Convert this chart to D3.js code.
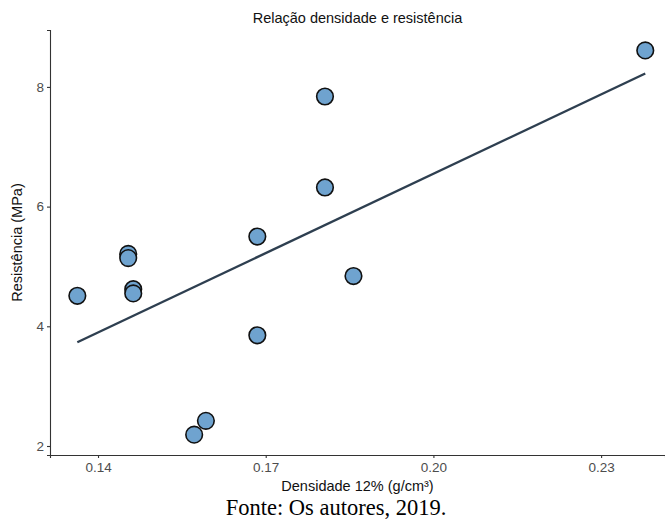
<!DOCTYPE html>
<html>
<head>
<meta charset="utf-8">
<script src="https://cdn.jsdelivr.net/npm/d3@7"></script>
<style>
  html, body { margin: 0; padding: 0; background: #fff; }
  svg { display: block; }
</style>
</head>
<body>
<svg id="chart" width="665" height="522"></svg>
<script>
// Density (12% moisture, g/cm³) and strength (MPa) of each specimen
const densidade = [0.1363, 0.1454, 0.1454, 0.1463, 0.1463, 0.1572, 0.1593, 0.1685, 0.1685, 0.1806, 0.1806, 0.1857, 0.2379];
const resistencia = [4.51, 5.21, 5.14, 4.62, 4.55, 2.19, 2.42, 5.50, 3.85, 7.84, 6.32, 4.84, 8.61];
const xTicks = [0.14, 0.17, 0.20, 0.23];
const yTicks = [2, 4, 6, 8];

const titulo = "Relação densidade e resistência";
const xTitulo = "Densidade 12% (g/cm³)";
const yTitulo = "Resistência (MPa)";
const fonte = "Fonte: Os autores, 2019.";

const svg = d3.select("#chart");
const panel = { left: 50, right: 665, top: 30, bottom: 455 };

const x = d3.scaleLinear().domain([0.13141, 0.24143]).range([panel.left, panel.right]);
const y = d3.scaleLinear().domain([1.8496, 8.951]).range([panel.bottom, panel.top]);

const sans = "'Liberation Sans', Arial, Helvetica, sans-serif";

// Axes
const xAxis = svg.append("g")
  .attr("transform", `translate(0,${panel.bottom})`)
  .call(d3.axisBottom(x).tickValues(xTicks).tickFormat(d3.format(".2f")).tickSizeOuter(0).tickSize(3).tickPadding(4));
const yAxis = svg.append("g")
  .attr("transform", `translate(${panel.left},0)`)
  .call(d3.axisLeft(y).tickValues(yTicks).tickFormat(d3.format("d")).tickSizeOuter(0).tickSize(3).tickPadding(3));

[xAxis, yAxis].forEach(g => {
  g.select(".domain").attr("stroke", "#333").attr("stroke-width", 1.1);
  g.selectAll(".tick line").attr("stroke", "#333").attr("stroke-width", 1.1);
  g.selectAll(".tick text").attr("fill", "#4d4d4d").style("font-family", sans).style("font-size", "13.5px");
});

// Least-squares fit line over the observed density range
const mx = d3.mean(densidade), my = d3.mean(resistencia);
let sxy = 0, sxx = 0;
densidade.forEach((d, i) => { sxy += (d - mx) * (resistencia[i] - my); sxx += (d - mx) * (d - mx); });
const slope = sxy / sxx, intercept = my - slope * mx;
const xr = d3.extent(densidade);
svg.append("path")
  .datum(xr.map(d => [d, intercept + slope * d]))
  .attr("d", d3.line().x(d => x(d[0])).y(d => y(d[1])))
  .attr("fill", "none")
  .attr("stroke", "#2e3f50")
  .attr("stroke-width", 2.4);

// Points
svg.append("g")
  .selectAll("circle")
  .data(densidade.map((d, i) => [d, resistencia[i]]))
  .join("circle")
  .attr("cx", d => x(d[0]))
  .attr("cy", d => y(d[1]))
  .attr("r", 8.3)
  .attr("fill", "#6fa3cf")
  .attr("stroke", "#111")
  .attr("stroke-width", 1.6);

// Titles
svg.append("text")
  .attr("x", (panel.left + panel.right) / 2).attr("y", 23)
  .attr("text-anchor", "middle")
  .style("font-family", sans).style("font-size", "14.5px").attr("fill", "#111")
  .text(titulo);

svg.append("text")
  .attr("x", (panel.left + panel.right) / 2).attr("y", 491)
  .attr("text-anchor", "middle")
  .style("font-family", sans).style("font-size", "14.5px").attr("fill", "#111")
  .text(xTitulo);

svg.append("text")
  .attr("transform", `translate(22,${(panel.top + panel.bottom) / 2}) rotate(-90)`)
  .attr("text-anchor", "middle")
  .style("font-family", sans).style("font-size", "14.5px").attr("fill", "#111")
  .text(yTitulo);

svg.append("text")
  .attr("x", 336).attr("y", 515)
  .attr("text-anchor", "middle")
  .style("font-family", "'Liberation Serif', 'Times New Roman', serif").style("font-size", "22.5px").attr("fill", "#000")
  .text(fonte);
</script>
</body>
</html>
